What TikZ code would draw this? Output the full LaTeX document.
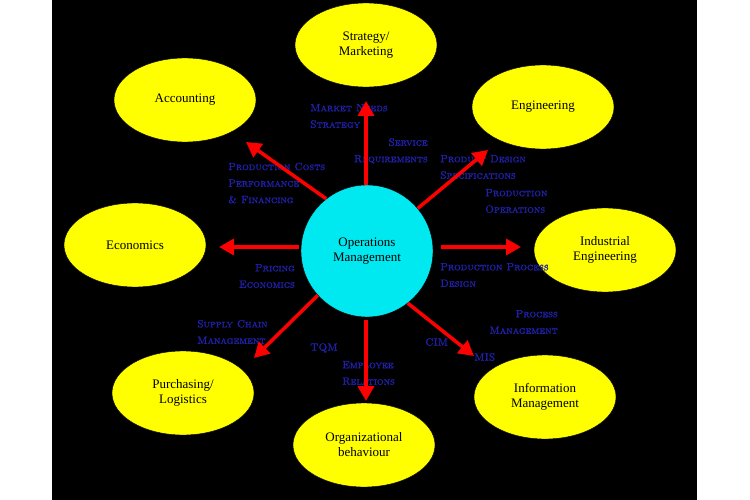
\documentclass[tikz,border=0pt]{standalone}
\usepackage{fontspec}
\newfontfamily\timesf{Liberation Serif}
\newfontfamily\labfont{lmromancaps10-regular.otf}[FakeBold=1.6]
\usetikzlibrary{shapes.geometric,arrows.meta}
\definecolor{labblue}{HTML}{2020A8}
\definecolor{ylw}{HTML}{FFFF00}
\definecolor{cyn}{HTML}{00E8F0}
\begin{document}
\begin{tikzpicture}[x=1pt,y=-1pt,
  field/.style={ellipse,fill=ylw,draw=black,minimum width=142pt,minimum height=84pt,inner sep=0pt,align=center,font=\timesf\fontsize{13}{15}\selectfont,text=black},
  core/.style={circle,fill=cyn,draw=black,minimum size=132pt,inner sep=0pt,align=center,font=\timesf\fontsize{13}{15}\selectfont},
  link/.style={draw=red,line width=3.5pt,-{Triangle[length=15pt,width=16pt]}},
  lab/.style={font=\labfont\fontsize{10.5}{16.5}\selectfont\bfseries,text=labblue,align=left,inner sep=0pt}]
\useasboundingbox (0,0) rectangle (750,500);
\fill[white] (0,0) rectangle (750,500);
\fill[black] (52,0) rectangle (697,500);

\node[core] (om) at (367,251) {Operations\\Management};
\node[field] (sm) at (366,45) {Strategy/\\Marketing};
\node[field] (ac) at (185,100) {Accounting};
\node[field] (en) at (543,107) {Engineering};
\node[field] (ec) at (135,245) {Economics};
\node[field] (ie) at (605,250) {Industrial\\Engineering};
\node[field] (pl) at (183,393) {Purchasing/\\Logistics};
\node[field] (ob) at (364,445) {Organizational\\behaviour};
\node[field] (im) at (545,397) {Information\\Management};

\node[lab,anchor=west] (l1) at (310,116) {Market Needs\\Strategy};
\node[lab,anchor=east,align=right] (l2) at (428,151) {Service\\Requirements};
\node[lab,anchor=west] (l3) at (228,183) {Production Costs\\Performance\\\& Financing};
\node[lab,anchor=west] (l4) at (440,167) {Product Design\\Specifications};
\node[lab,anchor=west] (l5) at (485,201) {Production\\Operations};
\node[lab,anchor=east,align=right] (l6) at (295,276) {Pricing\\Economics};
\node[lab,anchor=west] (l7) at (440,275) {Production Process\\Design};
\node[lab,anchor=west] (l8) at (197,332) {Supply Chain\\Management};
\node[lab,anchor=west] (l9) at (310,348) {TQM};
\node[lab,anchor=west] (l10) at (342,373) {Employee\\Relations};
\node[lab,anchor=east,align=right] (l11) at (558,322) {Process\\Management};
\node[lab,anchor=west] (l12) at (425,342) {CIM};
\node[lab,anchor=west] (l13) at (474,357) {MIS};

\coordinate (tsm) at (366,101);
\coordinate (tac) at (246,142);
\coordinate (ten) at (488,150);
\coordinate (tec) at (219,247);
\coordinate (tie) at (521,247);
\coordinate (tpl) at (254,358);
\coordinate (tob) at (366,401);
\coordinate (tim) at (474,356);

\draw[link] (om.north -| tsm) -- (tsm);
\draw[link] (om.128) -- (tac);
\draw[link] (om.40) -- (ten);
\draw[link] ([xshift=-2pt]om.west |- tec) -- (tec);
\draw[link] ([xshift=8pt]om.east |- tie) -- (tie);
\draw[link] (om.-138) -- (tpl);
\draw[link] ([yshift=-3pt]om.south -| tob) -- (tob);
\draw[link] (om.-52) -- (tim);
\end{tikzpicture}
\end{document}
